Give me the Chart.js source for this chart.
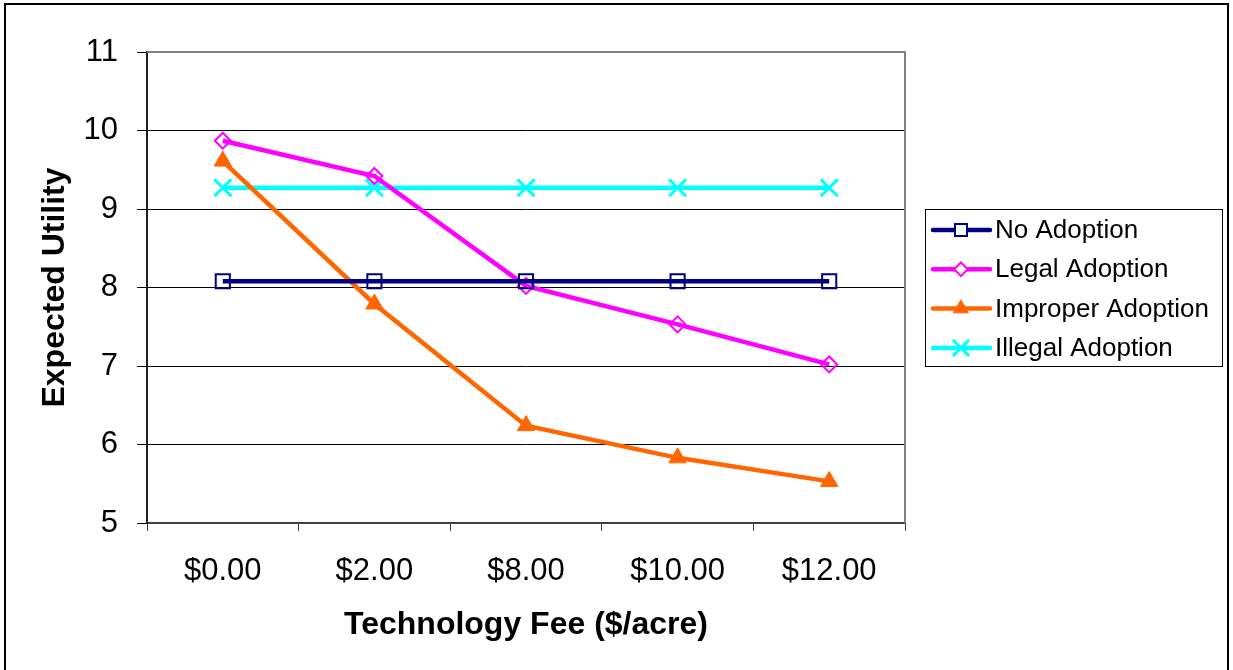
<!DOCTYPE html>
<html>
<head>
<meta charset="utf-8">
<title>Expected Utility</title>
<script src="https://cdn.jsdelivr.net/npm/chart.js@4/dist/chart.umd.min.js"></script>
<style>
  html, body { margin: 0; padding: 0; background: #ffffff; }
  #wrap { width: 1233px; height: 670px; position: relative; }
</style>
</head>
<body>
<div id="wrap"><canvas id="graph"></canvas></div>
<script>
// Data
var feeLabels = ['$0.00', '$2.00', '$8.00', '$10.00', '$12.00'];
var noAdoption = [8.08, 8.08, 8.08, 8.08, 8.08];
var legalAdoption = [9.87, 9.42, 8.02, 7.53, 7.02];
var improperAdoption = [9.61, 7.79, 6.24, 5.83, 5.53];
var illegalAdoption = [9.27, 9.27, 9.27, 9.27, 9.27];
var seriesNames = ['No Adoption', 'Legal Adoption', 'Improper Adoption', 'Illegal Adoption'];
var yTicks = [5, 6, 7, 8, 9, 10, 11];

var fontName = '"Liberation Sans", Arial, sans-serif';

function makeSeries(label, values, color, style, radius, filled, borderW) {
  return {
    label: label,
    data: values,
    borderColor: color,
    backgroundColor: filled ? color : 'rgba(255,255,255,0)',
    borderWidth: 4.5,
    pointStyle: style,
    pointRadius: radius,
    pointHoverRadius: radius,
    pointBorderWidth: borderW,
    pointBorderColor: color,
    pointBackgroundColor: filled ? color : 'rgba(255,255,255,0)',
    tension: 0,
    fill: false
  };
}

// frame round the whole picture, plus the grey plot border
var framePlugin = {
  id: 'frame',
  beforeDraw: function (chart) {
    var ctx = chart.ctx;
    ctx.save();
    ctx.fillStyle = '#ffffff';
    ctx.fillRect(0, 0, chart.width, chart.height);
    ctx.strokeStyle = '#000000';
    ctx.lineWidth = 2;
    ctx.strokeRect(5, 4, 1223, 700);
    ctx.restore();
  },
  afterDraw: function (chart) {
    var ctx = chart.ctx;
    var a = chart.chartArea;
    ctx.save();
    ctx.strokeStyle = '#808080';
    ctx.lineWidth = 2;
    ctx.beginPath();
    ctx.moveTo(a.left, a.top);
    ctx.lineTo(a.right, a.top);
    ctx.lineTo(a.right, a.bottom);
    ctx.stroke();
    ctx.restore();
  }
};

// legend box on the right, line + marker like the original
var legendPlugin = {
  id: 'boxLegend',
  afterDraw: function (chart) {
    var ctx = chart.ctx;
    var a = chart.chartArea;
    var boxX = a.right + 20;
    var boxY = 209;
    var boxW = 297;
    var boxH = 157;
    var rowH = 39.3;
    ctx.save();
    ctx.strokeStyle = '#000000';
    ctx.lineWidth = 1;
    ctx.strokeRect(boxX + 0.5, boxY + 0.5, boxW, boxH);
    ctx.font = '26px ' + fontName;
    ctx.textBaseline = 'middle';
    ctx.fillStyle = '#000000';
    for (var i = 0; i < chart.data.datasets.length; i++) {
      var ds = chart.data.datasets[i];
      var y = boxY + 21 + i * rowH;
      ctx.strokeStyle = ds.borderColor;
      ctx.lineWidth = 4.5;
      ctx.lineCap = 'round';
      ctx.beginPath();
      ctx.moveTo(boxX + 8, y);
      ctx.lineTo(boxX + 65, y);
      ctx.stroke();
      if (Chart.helpers && Chart.helpers.drawPoint) {
        ctx.lineWidth = ds.pointBorderWidth;
        ctx.fillStyle = ds.pointBackgroundColor === 'rgba(255,255,255,0)' ? '#ffffff' : ds.pointBackgroundColor;
        Chart.helpers.drawPoint(ctx, { pointStyle: ds.pointStyle, rotation: 0, radius: ds.pointRadius * 0.85, borderWidth: ds.pointBorderWidth }, boxX + 36, y);
      }
      ctx.fillStyle = '#000000';
      ctx.fillText(ds.label, boxX + 70, y + 1);
    }
    ctx.restore();
  }
};

var canvas = document.getElementById('graph');
var ctx = canvas.getContext('2d');

var chart = new Chart(ctx, {
  type: 'line',
  data: {
    labels: feeLabels,
    datasets: [
      makeSeries(seriesNames[0], noAdoption, '#000080', 'rect', 10, false, 2),
      makeSeries(seriesNames[1], legalAdoption, '#FF00FF', 'rectRot', 8, false, 2),
      makeSeries(seriesNames[2], improperAdoption, '#FF6600', 'triangle', 10, true, 1),
      makeSeries(seriesNames[3], illegalAdoption, '#00FFFF', 'crossRot', 12, false, 3)
    ]
  },
  options: {
    responsive: true,
    maintainAspectRatio: false,
    animation: false,
    layout: { padding: { left: 0, top: 52, right: 328, bottom: 0 } },
    plugins: {
      legend: { display: false },
      tooltip: { enabled: false }
    },
    scales: {
      x: {
        offset: true,
        afterFit: function (scale) { scale.height = 147; },
        grid: { offset: true, drawOnChartArea: false, drawTicks: true, tickLength: 8, color: '#404040', lineWidth: 1 },
        border: { display: true, color: '#404040', width: 2 },
        ticks: { color: '#000000', padding: 22, font: { family: fontName, size: 31 } },
        title: {
          display: true,
          text: 'Technology Fee ($/acre)',
          color: '#000000',
          padding: { top: 0, bottom: 26 },
          font: { family: fontName, size: 32, weight: 'bold' }
        }
      },
      y: {
        min: 5,
        max: 11,
        afterFit: function (scale) { scale.width = 147; },
        afterBuildTicks: function (scale) {
          scale.ticks = yTicks.map(function (v) { return { value: v }; });
        },
        grid: { color: '#000000', lineWidth: 1, drawTicks: true, tickLength: 10 },
        border: { display: true, color: '#202020', width: 2 },
        ticks: { color: '#000000', padding: 19, font: { family: fontName, size: 31 } },
        title: {
          display: true,
          text: 'Expected Utility',
          color: '#000000',
          padding: { top: 36, bottom: 0 },
          font: { family: fontName, size: 32, weight: 'bold' }
        }
      }
    }
  },
  plugins: [framePlugin, legendPlugin]
});
</script>
</body>
</html>
